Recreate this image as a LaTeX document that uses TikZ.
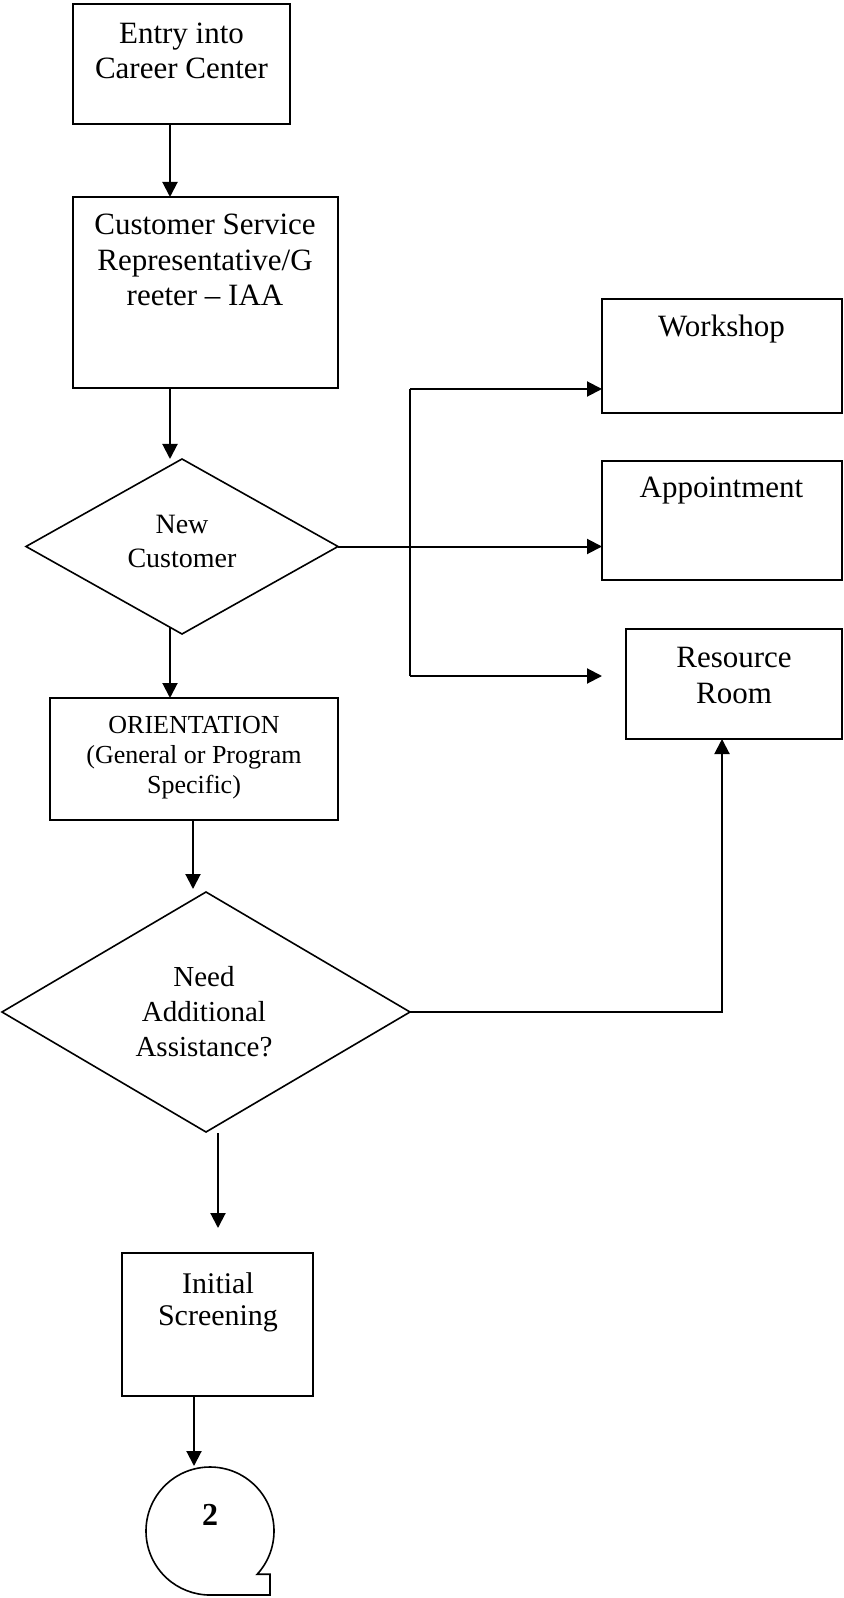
\documentclass[tikz,border=0pt]{standalone}
\usepackage{fontspec}
\setmainfont{Liberation Serif}
\usetikzlibrary{arrows.meta,shapes.geometric,fit,calc}

% text sizes used in the chart
\newcommand{\fntbig}{\fontsize{15.5}{17.75}\selectfont}
\newcommand{\fntscr}{\fontsize{15}{16}\selectfont}
\newcommand{\fntnew}{\fontsize{14}{17}\selectfont}
\newcommand{\fntneed}{\fontsize{14.5}{17.5}\selectfont}
\newcommand{\fntori}{\fontsize{13}{15}\selectfont}

\begin{document}
\begin{tikzpicture}[x=0.5pt,y=-0.5pt,
  box/.style={draw, line width=1pt, inner sep=0pt, outer sep=0pt},
  dec/.style={draw, diamond, line width=0.8pt, inner sep=0pt, outer sep=0pt},
  txt/.style={anchor=north, inner sep=0pt, outer sep=0pt, align=center},
  ln/.style={line width=1pt},
  arr/.style={line width=1pt, -{Triangle[length=7.5pt,width=7.5pt]}}]
\useasboundingbox (0,0) rectangle (843,1598);

% process boxes
\node[box, fit={(73,4) (290,124)}]    (entry)    {};
\node[box, fit={(73,197) (338,388)}]  (csr)      {};
\node[box, fit={(50,698) (338,820)}]  (orient)   {};
\node[box, fit={(122,1253) (313,1396)}] (screen) {};
\node[box, fit={(602,299) (842,413)}] (workshop) {};
\node[box, fit={(602,461) (842,580)}] (appoint)  {};
\node[box, fit={(626,629) (842,739)}] (resource) {};

% decisions
\node[dec, minimum width=156pt, minimum height=87.5pt] (newc) at (182,546.5) {};
\node[dec, minimum width=204pt, minimum height=120pt]  (need) at (206,1012) {};

% box texts
\node[txt, font=\fntbig] (entry-t) at (181.5,18.5) {\strut Entry into\\Career Center};
\node[txt, font=\fntbig] (csr-t) at (205,210) {\strut Customer Service\\Representative/G\\reeter -- IAA};
\node[txt, font=\fntbig] (workshop-t) at (721.5,312) {\strut Workshop};
\node[txt, font=\fntbig] (appoint-t) at (721.5,473) {\strut Appointment};
\node[txt, font=\fontsize{15.5}{18}\selectfont] (resource-t) at (734,642) {\strut Resource\\Room};
\node[txt, font=\fntnew] (newc-t) at (182,510) {\strut New\\Customer};
\node[txt, font=\fntori] (orient-t) at (194,712) {\strut ORIENTATION\\(General or Program\\Specific)};
\node[txt, font=\fntneed] (need-t) at (204,961.5) {\strut Need\\Additional\\Assistance?};
\node[txt, font=\fntscr] (screen-t) at (218,1270.6) {\strut Initial\\Screening};

% continuation connector with its tail
\node[circle, minimum size=64pt, inner sep=0pt, outer sep=0pt] (conn) at (210,1531) {};
\begin{scope}[shift={(conn.center)}, x=1pt, y=1pt]
  \draw[line width=0.8pt] (-42.5:32) arc[start angle=-42.5, end angle=270, radius=32]
    -- (30,-32) -- (30,-21.6) -- cycle;
\end{scope}
\node[anchor=base, inner sep=0pt, font=\fontsize{16}{18}\selectfont\bfseries] (conn-t) at (210,1525) {2};

% main flow
\draw[arr] (170,0 |- entry.south) -- (170,0 |- csr.north);
\draw[arr] (170,0 |- csr.south) -- (170,0 |- newc.north);
\draw[arr] ($(newc.south)+(-12,-7)$) -- (170,0 |- orient.north);
\draw[arr] (193,0 |- orient.south) -- ($(need.north)+(-13,-3)$);
\coordinate (scr-in) at (218,1228);
\draw[arr] ($(need.south)+(12,1)$) -- (scr-in);
\draw[arr] (194,0 |- screen.south) -- (194,1466);

% branches to the right
\coordinate (trunk-top) at (410,389);
\coordinate (trunk-bot) at (410,676);
\coordinate (room-in) at (602,676);
\draw[ln] (trunk-top) -- (trunk-bot);
\draw[arr] (trunk-top) -- (trunk-top -| workshop.west);
\draw[arr] (trunk-bot) -- (room-in);
\draw[arr] (newc.east) -- (newc.east -| appoint.west);
\draw[arr] (need.east) -| (722,0 |- resource.south);
\end{tikzpicture}
\end{document}
